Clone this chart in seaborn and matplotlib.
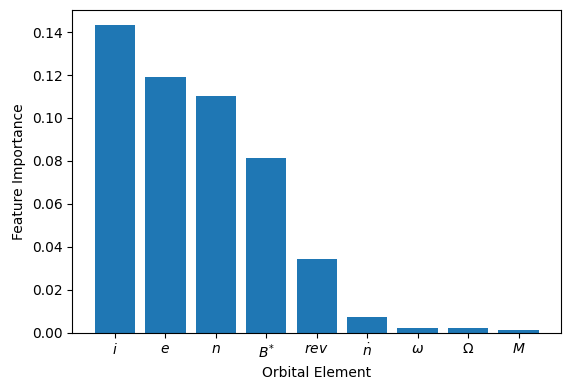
import matplotlib
matplotlib.use("Agg")
import matplotlib.pyplot as plt
import seaborn as sns
import pandas as pd

# feature importances
elements = ['$i$', '$e$', '$n$', '$B^{*}$', '$rev$', r'$\dot{n}$', r'$\omega$', r'$\Omega$', '$M$']
importance = [0.1432, 0.1190, 0.1101, 0.0813, 0.0342, 0.0072, 0.0021, 0.0020, 0.0012]

df = pd.DataFrame({'element': elements, 'importance': importance})

fig, ax = plt.subplots(figsize=(5.64, 3.8), dpi=100)
sns.barplot(data=df, x='element', y='importance', color='#1f77b4',
            saturation=1, width=0.8, ax=ax)

ax.set_xlim(-0.84, len(elements) - 1 + 0.84)
ax.set_ylim(0, 0.1503)
ax.set_xlabel('Orbital Element')
ax.set_ylabel('Feature Importance')

fig.subplots_adjust(left=0.1285, right=0.9947, top=0.9737, bottom=0.125)
fig.savefig('out.png', dpi=100)
